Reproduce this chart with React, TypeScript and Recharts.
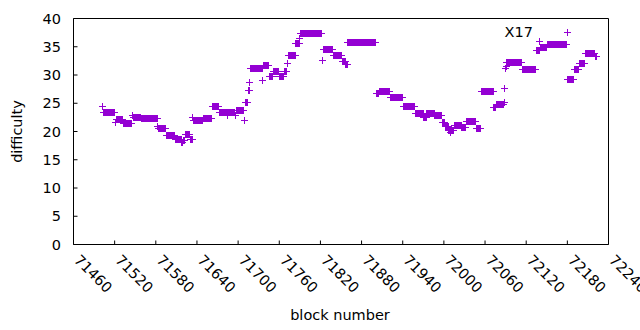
import React from 'react';
import { ScatterChart, Scatter, XAxis, YAxis, Legend } from 'recharts';

document.body.style.margin = '0';

const SERIES_NAME = 'X17';
const POINT_COLOR = '#9400d3';
const FONT = '"DejaVu Sans", sans-serif';
const FONT_SIZE = 14.5;

const X_TICKS = [
  71460, 71520, 71580, 71640, 71700, 71760, 71820, 71880, 71940, 72000, 72060, 72120, 72180, 72240,
];
const Y_TICKS = [0, 5, 10, 15, 20, 25, 30, 35, 40];

// [first block, last block, difficulty] - consecutive blocks sharing one difficulty
const RUNS: [number, number, number][] = [
  [71502, 71503, 24.5],
  [71504, 71520, 23.4],
  [71521, 71521, 21.6],
  [71522, 71532, 22.2],
  [71533, 71545, 21.4],
  [71546, 71546, 22.8],
  [71547, 71558, 22.5],
  [71559, 71582, 22.3],
  [71583, 71583, 20.8],
  [71584, 71594, 20.5],
  [71595, 71607, 19.3],
  [71608, 71617, 18.6],
  [71618, 71619, 18.1],
  [71620, 71622, 18.4],
  [71623, 71629, 19.5],
  [71630, 71633, 18.5],
  [71634, 71634, 22.4],
  [71635, 71648, 21.9],
  [71649, 71661, 22.3],
  [71662, 71672, 24.4],
  [71673, 71683, 23.3],
  [71684, 71684, 22.9],
  [71685, 71695, 23.3],
  [71696, 71696, 22.8],
  [71697, 71708, 23.7],
  [71709, 71710, 21.9],
  [71711, 71714, 25.1],
  [71715, 71716, 27.2],
  [71717, 71717, 28.6],
  [71718, 71735, 31.2],
  [71736, 71736, 29.0],
  [71737, 71745, 31.6],
  [71746, 71750, 29.7],
  [71751, 71759, 30.7],
  [71760, 71766, 29.7],
  [71767, 71771, 30.6],
  [71772, 71772, 32.0],
  [71773, 71783, 33.5],
  [71784, 71789, 35.6],
  [71790, 71790, 36.4],
  [71791, 71822, 37.3],
  [71823, 71823, 32.6],
  [71824, 71838, 34.5],
  [71839, 71851, 33.4],
  [71852, 71856, 32.4],
  [71857, 71859, 31.9],
  [71860, 71901, 35.7],
  [71902, 71905, 26.8],
  [71906, 71921, 27.0],
  [71922, 71940, 26.1],
  [71941, 71957, 24.4],
  [71958, 71970, 23.1],
  [71971, 71974, 22.5],
  [71975, 71986, 23.1],
  [71987, 71997, 22.8],
  [71998, 72001, 21.6],
  [72002, 72006, 20.9],
  [72007, 72008, 20.2],
  [72009, 72009, 19.8],
  [72010, 72014, 20.2],
  [72015, 72025, 21.0],
  [72026, 72032, 20.7],
  [72033, 72046, 21.8],
  [72047, 72054, 20.6],
  [72055, 72072, 27.1],
  [72073, 72075, 24.2],
  [72076, 72087, 24.7],
  [72088, 72088, 25.1],
  [72089, 72089, 27.6],
  [72090, 72090, 31.1],
  [72091, 72091, 31.5],
  [72092, 72113, 32.2],
  [72114, 72134, 30.9],
  [72135, 72139, 34.3],
  [72140, 72140, 36.0],
  [72141, 72150, 34.9],
  [72151, 72179, 35.35],
  [72180, 72189, 29.2],
  [72190, 72196, 31.0],
  [72197, 72205, 32.0],
  [72206, 72220, 33.8],
  [72221, 72222, 33.2],
];

const points = RUNS.flatMap(([from, to, difficulty]) =>
  Array.from({ length: to - from + 1 }, (_, i) => ({ block: from + i, difficulty })),
);

function PlusMark({ cx, cy }: any) {
  if (cx == null || cy == null) return null;
  const x = Math.floor(cx) + 0.5;
  const y = Math.floor(cy) + 0.5;
  return (
    <path
      d={`M${x - 3.5},${y}H${x + 3.5}M${x},${y - 3.5}V${y + 3.5}`}
      stroke={POINT_COLOR}
      strokeWidth={1}
      fill="none"
    />
  );
}

function XTick({ x, y, payload }: any) {
  return (
    <text
      transform={`translate(${x + 3.4},${y}) rotate(45)`}
      textAnchor="start"
      dominantBaseline="central"
      fontFamily={FONT}
      fontSize={FONT_SIZE}
      fill="#000"
    >
      {payload.value}
    </text>
  );
}

function YTick({ x, y, payload }: any) {
  return (
    <text
      x={x}
      y={y}
      textAnchor="end"
      dominantBaseline="central"
      fontFamily={FONT}
      fontSize={FONT_SIZE}
      fill="#000"
    >
      {payload.value}
    </text>
  );
}

function KeyBox() {
  return (
    <div
      style={{
        display: 'flex',
        alignItems: 'center',
        fontFamily: FONT,
        fontSize: FONT_SIZE,
        lineHeight: '16px',
        color: '#000',
      }}
    >
      <span style={{ width: 44, textAlign: 'right' }}>{SERIES_NAME}</span>
      <svg width={56} height={16}>
        <PlusMark cx={34} cy={8} />
      </svg>
    </div>
  );
}

const axisStroke = { stroke: '#000', strokeWidth: 1 };

export default function App() {
  return (
    <div style={{ width: 640, height: 330, background: '#fff' }}>
      <ScatterChart
        width={640}
        height={330}
        margin={{ top: 17.5, right: 30.5, bottom: 0, left: 0 }}
      >
        <XAxis
          dataKey="block"
          type="number"
          domain={[71460, 72240]}
          allowDataOverflow
          ticks={X_TICKS}
          interval={0}
          height={85.5}
          tickSize={-4}
          tickMargin={17}
          tick={<XTick />}
          axisLine={axisStroke}
          tickLine={axisStroke}
          label={({ viewBox }: any) => (
            <text
              x={viewBox.x + viewBox.width / 2 - 1}
              y={315}
              textAnchor="middle"
              dominantBaseline="central"
              fontFamily={FONT}
              fontSize={FONT_SIZE}
              fill="#000"
            >
              block number
            </text>
          )}
        />
        <XAxis
          xAxisId="top"
          orientation="top"
          type="number"
          domain={[71460, 72240]}
          allowDataOverflow
          ticks={X_TICKS}
          interval={0}
          height={1}
          tickSize={-4}
          tick={false}
          axisLine={axisStroke}
          tickLine={axisStroke}
        />
        <YAxis
          dataKey="difficulty"
          type="number"
          domain={[0, 40]}
          allowDataOverflow
          ticks={Y_TICKS}
          interval={0}
          width={73.5}
          tickSize={-4}
          tickMargin={16.5}
          tick={<YTick />}
          axisLine={axisStroke}
          tickLine={axisStroke}
          label={({ viewBox }: any) => (
            <text
              transform={`translate(17,${viewBox.y + viewBox.height / 2}) rotate(-90)`}
              textAnchor="middle"
              dominantBaseline="central"
              fontFamily={FONT}
              fontSize={FONT_SIZE}
              fill="#000"
            >
              difficulty
            </text>
          )}
        />
        <YAxis
          yAxisId="right"
          orientation="right"
          type="number"
          domain={[0, 40]}
          allowDataOverflow
          ticks={Y_TICKS}
          interval={0}
          width={1}
          tickSize={-4}
          tick={false}
          axisLine={axisStroke}
          tickLine={axisStroke}
        />
        <Legend
          layout="vertical"
          align="center"
          verticalAlign="middle"
          wrapperStyle={{ left: 489, top: 24, width: 100 }}
          content={() => <KeyBox />}
        />
        <Scatter
          name={SERIES_NAME}
          data={points}
          shape={<PlusMark />}
          isAnimationActive={false}
        />
      </ScatterChart>
    </div>
  );
}
